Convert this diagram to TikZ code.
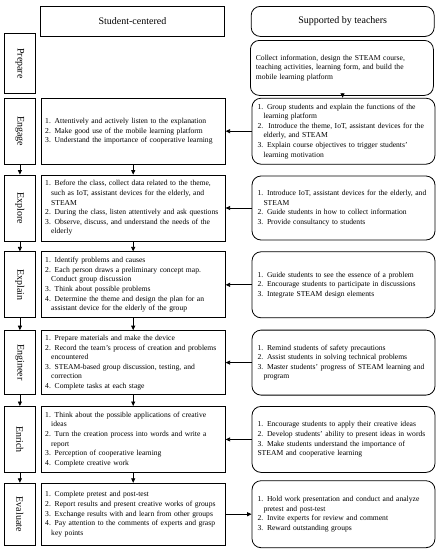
\documentclass[tikz,border=0pt]{standalone}
\usepackage{fontspec}
\setmainfont{Liberation Serif}
\usetikzlibrary{arrows.meta,positioning}

\newcommand{\ind}{\hspace*{6pt}}

\begin{document}
\begin{tikzpicture}[x=1pt, y=-1pt,
  phase/.style={draw, line width=0.8pt, minimum width=31pt, inner sep=0pt, font=\fontsize{10}{12}\selectfont},
  stubox/.style={draw, line width=0.8pt, text width=176pt, inner xsep=4pt, inner ysep=0pt, align=left, font=\fontsize{7.6}{9.6}\selectfont},
  tchbox/.style={stubox, rounded corners=9pt, text width=172pt, inner xsep=5.5pt},
  head/.style={draw, line width=0.8pt, minimum width=184pt, minimum height=30pt, inner sep=0pt, font=\fontsize{10}{12}\selectfont},
  arr/.style={-{Triangle[length=4.5pt, width=4pt]}, line width=0.8pt}
]
\useasboundingbox (0,0) rectangle (438,550);

% column heads
\node[head, anchor=north west] (hStu) at (40,6) {Student-centered};
\node[head, rounded corners=9pt, minimum width=183pt, right=26pt of hStu] (hTch) {Supported by teachers};

% phase labels
\node[phase, minimum height=60pt, anchor=north west] (pPrep) at (4,33) {\rotatebox{-90}{Prepare}};
\node[phase, minimum height=66pt, below=4pt of pPrep] (pEngage) {\rotatebox{-90}{Engage}};
\node[phase, minimum height=66pt, below=10pt of pEngage] (pExplore) {\rotatebox{-90}{Explore}};
\node[phase, minimum height=66pt, below=10pt of pExplore] (pExplain) {\rotatebox{-90}{Explain}};
\node[phase, minimum height=64pt, below=12pt of pExplain] (pEngineer) {\rotatebox{-90}{Engineer}};
\node[phase, minimum height=66pt, below=11pt of pEngineer] (pEnrich) {\rotatebox{-90}{Enrich}};
\node[phase, minimum height=62pt, below=10pt of pEnrich] (pEval) {\rotatebox{-90}{Evaluate}};

% student-centered
\node[stubox, minimum height=66pt, right=5pt of pEngage] (sEngage) {1. Attentively and actively listen to the explanation\\
2. Make good use of the mobile learning platform\\
3. Understand the importance of cooperative learning};
\node[stubox, minimum height=66pt, right=5pt of pExplore] (sExplore) {1. Before the class, collect data related to the theme,\\
\ind such as IoT, assistant devices for the elderly, and\\
\ind STEAM\\
2. During the class, listen attentively and ask questions\\
3. Observe, discuss, and understand the needs of the\\
\ind elderly};
\node[stubox, minimum height=66pt, right=5pt of pExplain] (sExplain) {1. Identify problems and causes\\
2. Each person draws a preliminary concept map.\\
\ind Conduct group discussion\\
3. Think about possible problems\\
4. Determine the theme and design the plan for an\\
\ind assistant device for the elderly of the group};
\node[stubox, minimum height=64pt, right=5pt of pEngineer] (sEngineer) {1. Prepare materials and make the device\\
2. Record the team's process of creation and problems\\
\ind encountered\\
3. STEAM-based group discussion, testing, and\\
\ind correction\\
4. Complete tasks at each stage};
\node[stubox, minimum height=66pt, right=5pt of pEnrich] (sEnrich) {1. Think about the possible applications of creative\\
\ind ideas\\
2. Turn the creation process into words and write a\\
\ind report\\
3. Perception of cooperative learning\\
4. Complete creative work};
\node[stubox, minimum height=62pt, right=5pt of pEval] (sEval) {1. Complete pretest and post-test\\
2. Report results and present creative works of groups\\
3. Exchange results with and learn from other groups\\
4. Pay attention to the comments of experts and grasp\\
\ind key points};

% supported by teachers
\node[tchbox, minimum height=55pt, anchor=north west] (tPrep) at (250,40) {Collect information, design the STEAM course,\\
teaching activities, learning form, and build the\\
mobile learning platform};
\node[tchbox, minimum height=66pt, right=26pt of sEngage] (tEngage) {1. Group students and explain the functions of the\\
\ind learning platform\\
2.\, Introduce the theme, IoT, assistant devices for the\\
\ind elderly, and STEAM\\
3. Explain course objectives to trigger students'\\
\ind learning motivation};
\node[tchbox, minimum height=64pt, right=26pt of sExplore] (tExplore) {1. Introduce IoT, assistant devices for the elderly, and\\
\ind STEAM\\
2. Guide students in how to collect information\\
3. Provide consultancy to students};
\node[tchbox, minimum height=66pt, right=26pt of sExplain] (tExplain) {1. Guide students to see the essence of a problem\\
2. Encourage students to participate in discussions\\
3. Integrate STEAM design elements};
\node[tchbox, minimum height=65pt, right=26pt of sEngineer] (tEngineer) {1. Remind students of safety precautions\\
2. Assist students in solving technical problems\\
3. Master students' progress of STEAM learning and\\
\ind program};
\node[tchbox, minimum height=66pt, right=26pt of sEnrich] (tEnrich) {1. Encourage students to apply their creative ideas\\
2. Develop students' ability to present ideas in words\\
3. Make students understand the importance of\\
STEAM and cooperative learning};
\node[tchbox, minimum height=67pt, right=26pt of sEval] (tEval) {1. Hold work presentation and conduct and analyze\\
\ind pretest and post-test\\
2. Invite experts for review and comment\\
3. Reward outstanding groups};

% flow down
\draw[arr] (pEngage) -- (pExplore);
\draw[arr] (pExplore) -- (pExplain);
\draw[arr] (pExplain) -- (pEngineer);
\draw[arr] (pEngineer) -- (pEnrich);
\draw[arr] (pEnrich) -- (pEval);
\draw[arr] (sEngage) -- (sExplore);
\draw[arr] (sExplore) -- (sExplain);
\draw[arr] (sExplain) -- (sEngineer);
\draw[arr] (sEngineer) -- (sEnrich);
\draw[arr] (sEnrich) -- (sEval);
\draw[arr] (tPrep) -- (tEngage);

% teacher support
\draw[arr] (tEngage) -- (sEngage);
\draw[arr] (tExplore) -- (sExplore);
\draw[arr] (tExplain) -- (sExplain);
\draw[arr] (tEngineer) -- (sEngineer);
\draw[arr] (tEnrich) -- (sEnrich);
\draw[arr] (sEval) -- (tEval);
\end{tikzpicture}
\end{document}
